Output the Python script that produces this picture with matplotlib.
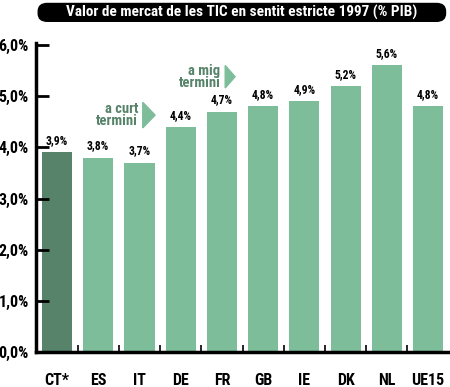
import matplotlib.pyplot as plt
from matplotlib.patches import FancyBboxPatch, Polygon

plt.rcParams['font.family'] = ['Roboto Condensed', 'DejaVu Sans']

countries = ["CT*", "ES", "IT", "DE", "FR", "GB", "IE", "DK", "NL", "UE15"]
values = [3.9, 3.8, 3.7, 4.4, 4.7, 4.8, 4.9, 5.2, 5.6, 4.8]
value_labels = ["3,9%", "3,8%", "3,7%", "4,4%", "4,7%", "4,8%", "4,9%", "5,2%", "5,6%", "4,8%"]
yticks = [0, 1, 2, 3, 4, 5, 6]
yticklabels = ["0,0%", "1,0%", "2,0%", "3,0%", "4,0%", "5,0%", "6,0%"]
title = "Valor de mercat de les TIC en sentit estricte 1997 (% PIB)"

light = "#7dbd9a"
dark = "#56836a"
colors = [dark] + [light] * (len(countries) - 1)

fig = plt.figure(figsize=(4.5, 3.87), dpi=100)
ax = fig.add_axes([0.08, 0.0904, 0.916, 0.7986])

x = list(range(len(countries)))
ax.bar(x, values, width=0.73, color=colors)
for xi, v, lab in zip(x, values, value_labels):
    ax.text(xi, v + 0.1, lab, ha="center", va="bottom", fontsize=8.5, fontweight="bold")

ax.set_xlim(-0.51, 9.49)
ax.set_ylim(0, 6.04)
ax.set_yticks(yticks)
ax.set_yticklabels(yticklabels, fontsize=11.5, fontweight="bold")
ax.set_xticks([i + 0.5 for i in range(len(countries) - 1)])
ax.set_xticklabels([])
ax.set_xticks(x, minor=True)
ax.set_xticklabels(countries, minor=True, fontsize=11.5, fontweight="bold")
ax.tick_params(axis="x", which="minor", length=0, pad=15)
ax.tick_params(axis="x", which="major", direction="in", length=5, width=1.2)
ax.tick_params(axis="y", direction="in", length=9, width=2, pad=5)
for s in ["top", "right"]:
    ax.spines[s].set_visible(False)
ax.spines["left"].set_linewidth(2.5)
ax.spines["bottom"].set_linewidth(2.5)

# annotations with arrows
ax.text(1.97, 4.63, "a curt\ntermini", ha="right", va="center", fontsize=10.5,
        fontweight="bold", color=dark, linespacing=0.8)
ax.add_patch(Polygon([[2.08, 4.88], [2.08, 4.38], [2.38, 4.63]], closed=True,
                     color=light, clip_on=False))
ax.text(3.96, 5.38, "a mig\ntermini", ha="right", va="center", fontsize=10.5,
        fontweight="bold", color=dark, linespacing=0.8)
ax.add_patch(Polygon([[4.08, 5.6], [4.08, 5.16], [4.32, 5.38]], closed=True,
                     color=light, clip_on=False))

# title box
box = FancyBboxPatch((0.085, 0.945), 0.905, 0.046, boxstyle="round,pad=0,rounding_size=0.02",
                     transform=fig.transFigure, facecolor="black", edgecolor="black")
fig.patches.append(box)
fig.text(0.537, 0.967, title, ha="center", va="center", color="white",
         fontsize=11, fontweight="bold")

fig.savefig("out.png", dpi=100)
